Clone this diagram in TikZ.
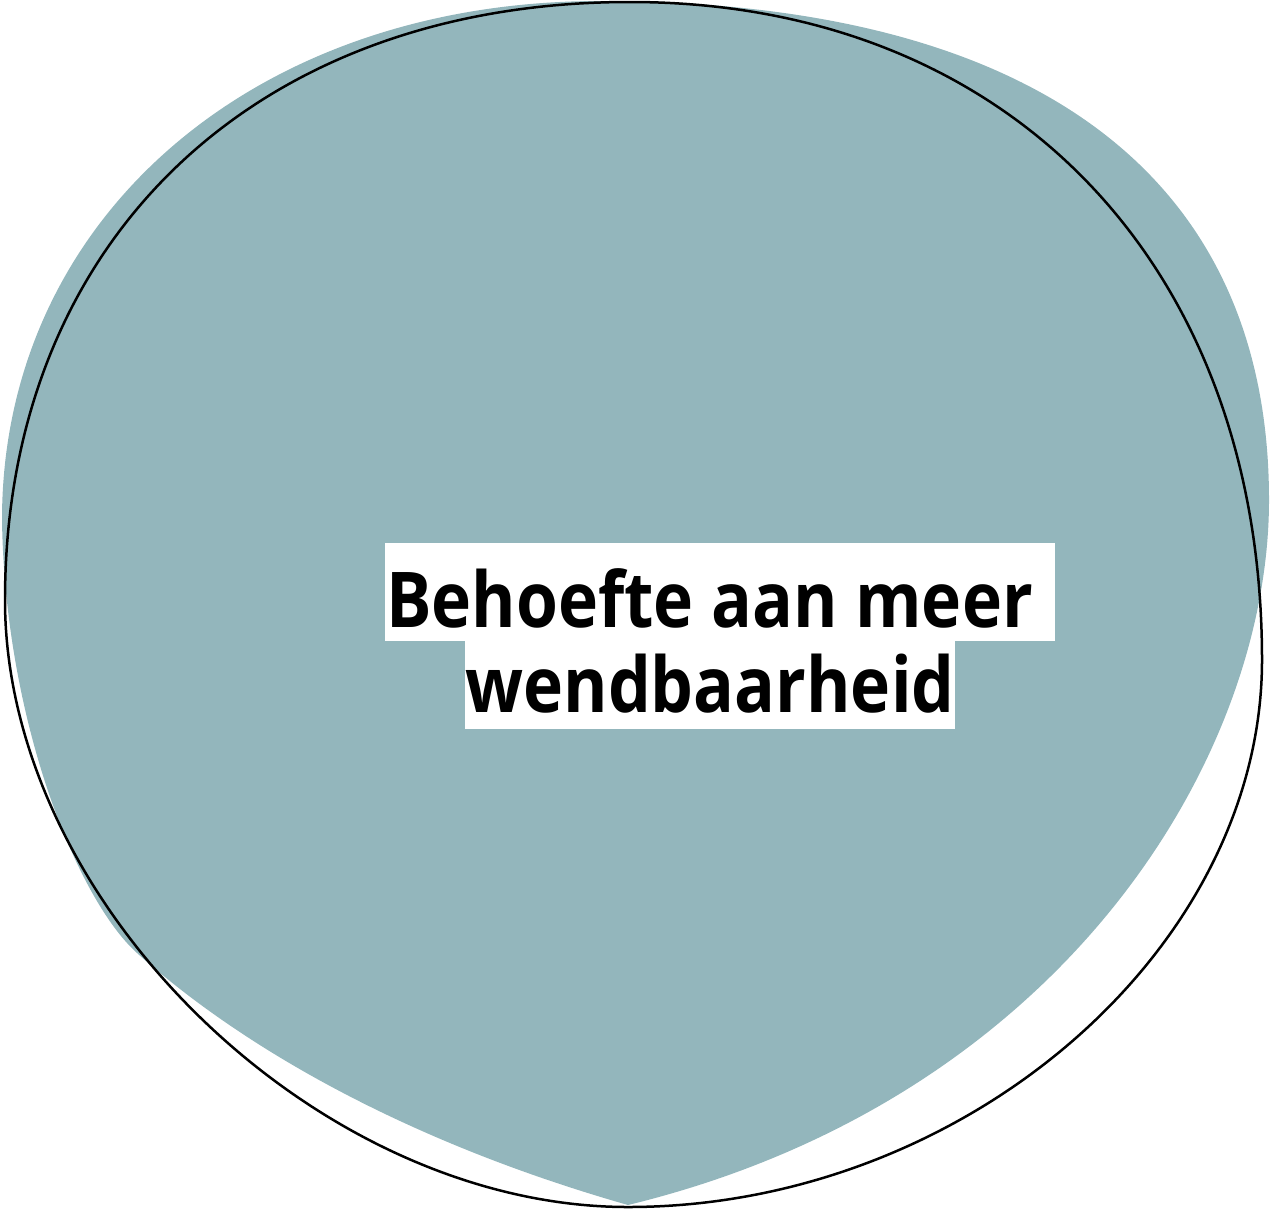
\documentclass[tikz,border=0pt]{standalone}
\usepackage{fontspec}
\setmainfont{Open Sans}[FakeStretch=0.88]
\definecolor{blobteal}{RGB}{147,182,188}
\begin{document}
\begin{tikzpicture}[x=1pt,y=-1pt,
  hl/.style={fill=white,inner sep=0pt,font=\fontsize{77}{85}\selectfont\bfseries},
  outline/.style={draw=black,line width=2.5pt}]
\useasboundingbox (0,0) rectangle (1271,1210);
% teal blob
\fill[blobteal] (2,520) .. controls (2,219) and (253,1) .. (600,1)
  .. controls (1035,1) and (1269,176) .. (1269,500)
  .. controls (1269,760) and (1060,1100) .. (628,1205)
  .. controls (400,1140) and (237,1043) .. (137,953)
  .. controls (77,899) and (5,720) .. (2,520) -- cycle;
% black outline
\draw[outline] (5,600) .. controls (5,241) and (255,2) .. (630,2)
  .. controls (1009,2) and (1262,265) .. (1262,660)
  .. controls (1262,950) and (964,1207) .. (628,1207)
  .. controls (317,1207) and (5,903) .. (5,600) -- cycle;
% text
\node[hl,minimum width=670pt,minimum height=98pt,text height=70pt,text depth=0pt] (l1) at (720,592) {Behoefte aan meer\hspace*{21pt}};
\node[hl,minimum width=490pt,minimum height=88pt,text height=54pt,text depth=0pt] (l2) at (710,685) {wendbaarheid};
\end{tikzpicture}
\end{document}
